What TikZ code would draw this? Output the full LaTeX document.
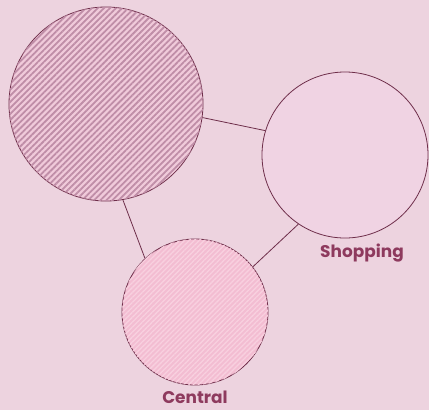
\documentclass[tikz,border=0pt]{standalone}
\usepackage{fontspec}
\setmainfont{Poppins}
\usetikzlibrary{patterns.meta}
\definecolor{bg}{HTML}{EDD3DF}
\definecolor{edge}{HTML}{6E2E4A}
\definecolor{txt}{HTML}{8E3A5E}
\definecolor{resfill}{HTML}{F0CADA}
\definecolor{resline}{HTML}{BF8DA7}
\definecolor{cenfill}{HTML}{F3BDD2}
\definecolor{cenline}{HTML}{F8D0DF}
\definecolor{shopfill}{HTML}{F0D3E3}
\tikzset{
  x=1bp, y=-1bp,
  zone/.style={circle, draw=edge, line width=0.8bp, inner sep=0pt},
  link/.style={draw=edge, line width=0.8bp},
  lbl/.style={text=txt, font=\fontsize{17}{20}\selectfont\bfseries, inner sep=0pt}
}
\begin{document}
\begin{tikzpicture}
\fill[bg] (0,0) rectangle (429,410);
\useasboundingbox (0,0) rectangle (429,410);
\node[zone, minimum size=194bp, fill=resfill,
  postaction={pattern={Lines[angle=45,distance=4.3bp,line width=1.8bp]}, pattern color=resline}] (res) at (106,104) {};
\node[zone, minimum size=166bp, fill=shopfill] (shop) at (345,155) {};
\node[zone, minimum size=146bp, fill=cenfill,
  postaction={pattern={Lines[angle=45,distance=3.5bp,line width=1.3bp]}, pattern color=cenline}] (cen) at (195,312) {};
\path[link] (res.-8) -- (shop.163);
\path[link] (res.-80) -- (cen.133);
\path[link] (shop.-124) -- (cen.38);
\node[lbl] (shoplbl) at (362,253) {Shopping};
\node[lbl] (cenlbl) at (195,397) {Central};
\end{tikzpicture}
\end{document}
